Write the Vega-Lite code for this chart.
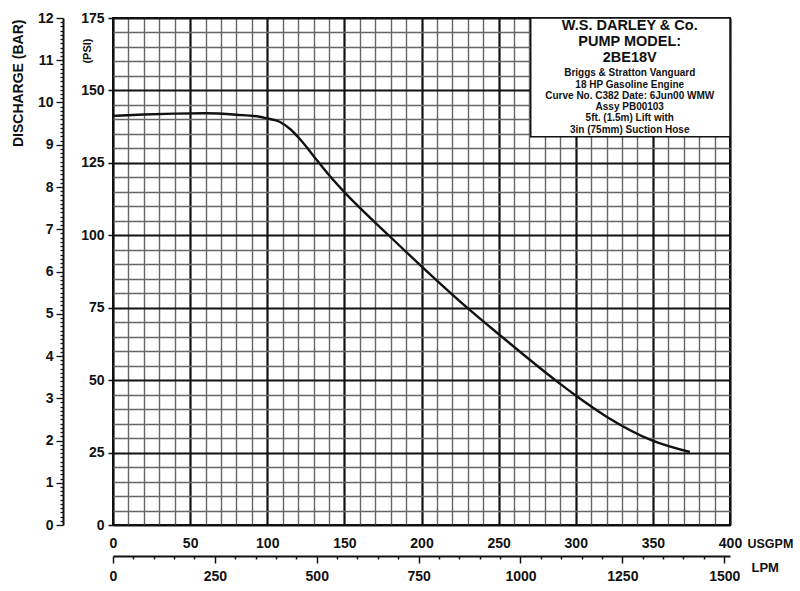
{
  "$schema": "https://vega.github.io/schema/vega-lite/v6.json",
  "width": 617,
  "height": 507,
  "autosize": "none",
  "padding": {"left": 113, "top": 18, "right": 70, "bottom": 66},
  "background": "white",
  "config": {
    "view": {"stroke": "#111", "strokeWidth": 2},
    "axis": {
      "labelFont": "Liberation Sans",
      "labelFontWeight": "bold",
      "labelFontSize": 14,
      "labelColor": "#111",
      "titleFont": "Liberation Sans",
      "titleFontWeight": "bold",
      "titleColor": "#111",
      "labelOverlap": false,
      "labelFlush": false,
      "tickColor": "#111",
      "domainColor": "#111"
    }
  },
  "resolve": {
    "scale": {"x": "independent", "y": "independent"},
    "axis": {"x": "independent", "y": "independent"}
  },
  "layer": [
    {
      "data": {"values": [
        {"usgpm": 0, "psi": 141.2},
        {"usgpm": 20, "psi": 141.7},
        {"usgpm": 40, "psi": 142.0},
        {"usgpm": 60, "psi": 142.1},
        {"usgpm": 80, "psi": 141.6},
        {"usgpm": 95, "psi": 140.9},
        {"usgpm": 100, "psi": 140.3},
        {"usgpm": 108, "psi": 139.2},
        {"usgpm": 115, "psi": 136.6},
        {"usgpm": 121, "psi": 133.3},
        {"usgpm": 130, "psi": 127.4},
        {"usgpm": 140, "psi": 120.8},
        {"usgpm": 150, "psi": 114.9},
        {"usgpm": 178.5, "psi": 100.1},
        {"usgpm": 200, "psi": 89.3},
        {"usgpm": 229, "psi": 75.3},
        {"usgpm": 250, "psi": 65.9},
        {"usgpm": 288, "psi": 49.5},
        {"usgpm": 300, "psi": 44.7},
        {"usgpm": 320, "psi": 37.4},
        {"usgpm": 349, "psi": 29.3},
        {"usgpm": 374, "psi": 25.2}
      ]},
      "mark": {"type": "line", "color": "#111", "strokeWidth": 2.4, "interpolate": "monotone"},
      "encoding": {
        "x": {
          "field": "usgpm", "type": "quantitative",
          "scale": {"domain": [0, 400], "nice": false, "zero": false},
          "axis": {
            "orient": "bottom",
            "title": "USGPM",
            "titleFontSize": 12.5,
            "titleX": 634, "titleY": 18,
            "titleAlign": "left", "titleBaseline": "middle", "titleAngle": 0,
            "values": [0,10,20,30,40,50,60,70,80,90,100,110,120,130,140,150,160,170,180,190,200,210,220,230,240,250,260,270,280,290,300,310,320,330,340,350,360,370,380,390,400],
            "labelExpr": "datum.value % 50 === 0 ? datum.label : ''",
            "domain": false,
            "tickSize": 0,
            "labelPadding": 11,
            "grid": true,
            "gridColor": {"condition": {"test": "datum.value % 50 === 0", "value": "#111"}, "value": "#666666"},
            "gridWidth": {"condition": {"test": "datum.value % 50 === 0", "value": 2.2}, "value": 1.4},
            "gridOpacity": 1
          }
        },
        "y": {
          "field": "psi", "type": "quantitative",
          "scale": {"domain": [0, 175], "nice": false, "zero": false},
          "axis": {
            "orient": "left",
            "title": "(PSI)",
            "titleFontSize": 11,
            "titleX": -26, "titleY": 20,
            "titleAlign": "right", "titleBaseline": "middle", "titleAngle": -90,
            "values": [0,5,10,15,20,25,30,35,40,45,50,55,60,65,70,75,80,85,90,95,100,105,110,115,120,125,130,135,140,145,150,155,160,165,170,175],
            "labelExpr": "datum.value % 25 === 0 ? datum.label : ''",
            "domain": false,
            "tickSize": {"condition": {"test": "datum.value % 25 === 0", "value": 5}, "value": 0},
            "tickWidth": 1.5,
            "labelPadding": 4,
            "grid": true,
            "gridColor": {"condition": {"test": "datum.value % 25 === 0", "value": "#111"}, "value": "#666666"},
            "gridWidth": {"condition": {"test": "datum.value % 25 === 0", "value": 2.2}, "value": 1.4},
            "gridOpacity": 1
          }
        }
      }
    },
    {
      "data": {"values": [{}]},
      "mark": {"type": "rect", "fill": "white", "stroke": "#111", "strokeWidth": 1.5},
      "encoding": {
        "x": {"datum": 270.8, "type": "quantitative", "scale": {"domain": [0, 400], "nice": false, "zero": false}, "axis": null},
        "x2": {"datum": 400},
        "y": {"datum": 134, "type": "quantitative", "scale": {"domain": [0, 175], "nice": false, "zero": false}, "axis": null},
        "y2": {"datum": 175}
      }
    },
    {
      "data": {"values": [{}]},
      "mark": {
        "type": "text",
        "text": ["W.S. DARLEY & Co.", "PUMP MODEL:", "2BE18V"],
        "font": "Liberation Sans", "fontWeight": "bold", "fontSize": 14.5,
        "lineHeight": 16, "align": "center", "baseline": "alphabetic", "color": "#111"
      },
      "encoding": {
        "x": {"datum": 335, "type": "quantitative", "scale": {"domain": [0, 400], "nice": false, "zero": false}, "axis": null},
        "y": {"datum": 170.9, "type": "quantitative", "scale": {"domain": [0, 175], "nice": false, "zero": false}, "axis": null}
      }
    },
    {
      "data": {"values": [{}]},
      "mark": {
        "type": "text",
        "text": ["Briggs & Stratton Vanguard", "18 HP Gasoline Engine", "Curve No. C382 Date: 6Jun00 WMW", "Assy PB00103", "5ft. (1.5m) Lift with", "3in (75mm) Suction Hose"],
        "font": "Liberation Sans", "fontWeight": "bold", "fontSize": 10,
        "lineHeight": 11.3, "align": "center", "baseline": "alphabetic", "color": "#111"
      },
      "encoding": {
        "x": {"datum": 335, "type": "quantitative", "scale": {"domain": [0, 400], "nice": false, "zero": false}, "axis": null},
        "y": {"datum": 154.9, "type": "quantitative", "scale": {"domain": [0, 175], "nice": false, "zero": false}, "axis": null}
      }
    },
    {
      "data": {"values": [{}]},
      "mark": {"type": "point", "opacity": 0},
      "encoding": {
        "x": {
          "datum": 0, "type": "quantitative",
          "scale": {"domain": [0, 1514.165], "nice": false, "zero": false},
          "axis": {
            "orient": "bottom",
            "offset": 31,
            "title": "LPM",
            "titleFontSize": 13,
            "titleX": 638, "titleY": 11,
            "titleAlign": "left", "titleBaseline": "middle", "titleAngle": 0,
            "values": [0,50,100,150,200,250,300,350,400,450,500,550,600,650,700,750,800,850,900,950,1000,1050,1100,1150,1200,1250,1300,1350,1400,1450,1500],
            "labelExpr": "datum.value % 250 === 0 ? ('' + datum.value) : ''",
            "domain": true, "domainWidth": 2,
            "tickSize": {"condition": {"test": "datum.value % 250 === 0", "value": 7}, "value": 3},
            "tickWidth": 1.5,
            "labelPadding": 6,
            "grid": false
          }
        },
        "y": {
          "datum": 0, "type": "quantitative",
          "scale": {"domain": [0, 12], "nice": false, "zero": false},
          "axis": {
            "orient": "left",
            "offset": 50,
            "title": "DISCHARGE (BAR)",
            "titleFontSize": 14,
            "titleX": -45, "titleY": 1,
            "titleAlign": "right", "titleBaseline": "middle", "titleAngle": -90,
            "values": [0,0.1,0.2,0.3,0.4,0.5,0.6,0.7,0.8,0.9,1,1.1,1.2,1.3,1.4,1.5,1.6,1.7,1.8,1.9,2,2.1,2.2,2.3,2.4,2.5,2.6,2.7,2.8,2.9,3,3.1,3.2,3.3,3.4,3.5,3.6,3.7,3.8,3.9,4,4.1,4.2,4.3,4.4,4.5,4.6,4.7,4.8,4.9,5,5.1,5.2,5.3,5.4,5.5,5.6,5.7,5.8,5.9,6,6.1,6.2,6.3,6.4,6.5,6.6,6.7,6.8,6.9,7,7.1,7.2,7.3,7.4,7.5,7.6,7.7,7.8,7.9,8,8.1,8.2,8.3,8.4,8.5,8.6,8.7,8.8,8.9,9,9.1,9.2,9.3,9.4,9.5,9.6,9.7,9.8,9.9,10,10.1,10.2,10.3,10.4,10.5,10.6,10.7,10.8,10.9,11,11.1,11.2,11.3,11.4,11.5,11.6,11.7,11.8,11.9,12],
            "labelExpr": "abs(datum.value - round(datum.value)) < 0.001 ? '' + round(datum.value) : ''",
            "domain": true, "domainWidth": 2,
            "tickSize": {"condition": {"test": "abs(datum.value - round(datum.value)) < 0.001", "value": 7}, "value": 3},
            "tickWidth": 1.3,
            "labelPadding": 3,
            "grid": false
          }
        }
      }
    }
  ]
}
